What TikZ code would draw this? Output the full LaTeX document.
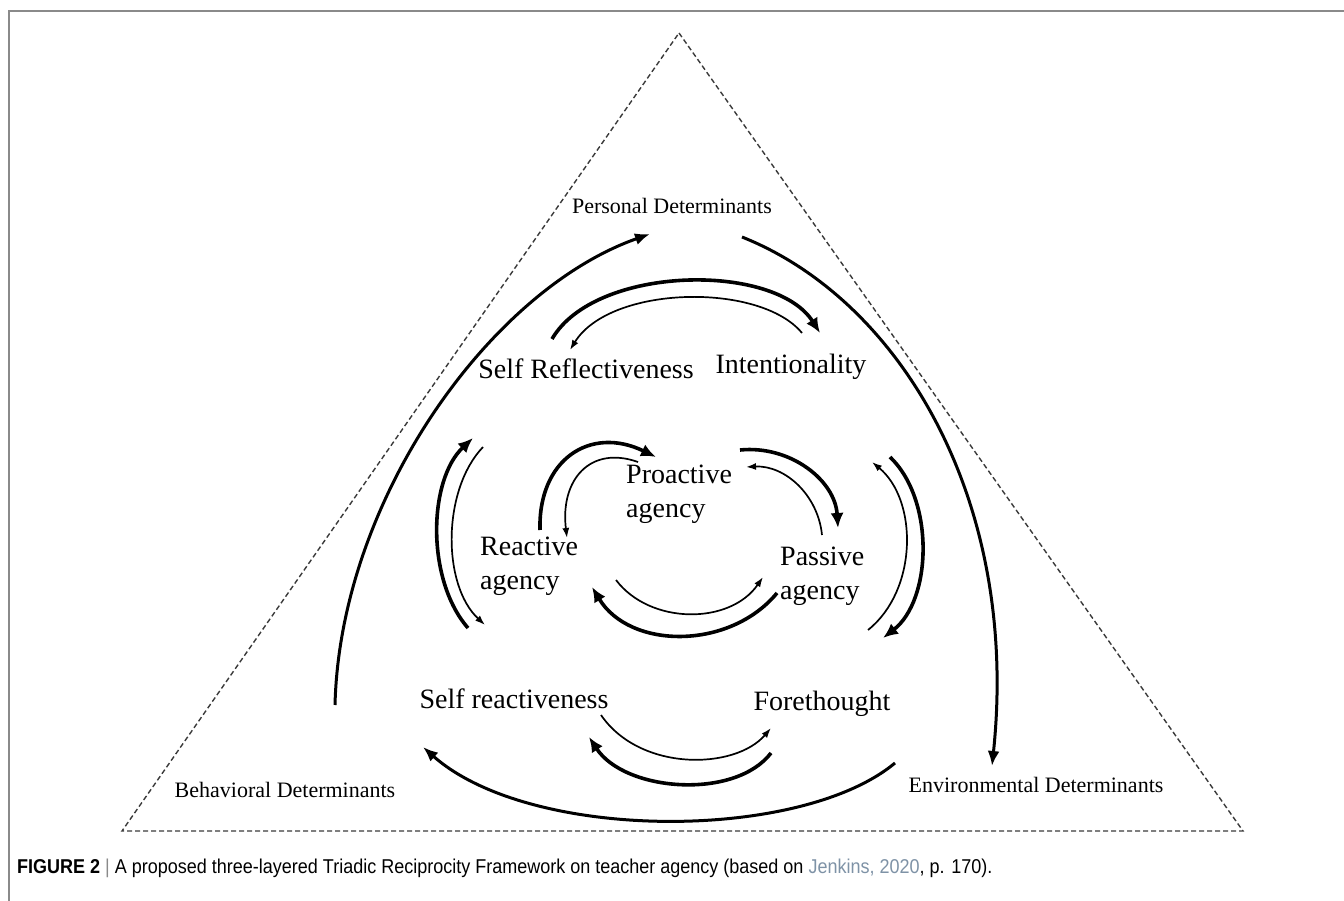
\documentclass[tikz,border=0pt]{standalone}
\usepackage{fontspec}
\usepackage{xcolor}
\setmainfont{Liberation Serif}
\newfontfamily\capfont[FakeStretch=0.9]{Liberation Sans}
\usetikzlibrary{arrows.meta}
\definecolor{framegrey}{HTML}{8A8A8A}
\definecolor{dashgrey}{HTML}{3A3A3A}
\definecolor{linkblue}{HTML}{7E92A6}

\begin{document}
\begin{tikzpicture}[x=1pt, y=-1pt,
    det/.style={font=\fontsize{22}{26}\selectfont, inner sep=0pt, anchor=base},
    lbl/.style={font=\fontsize{28}{34}\selectfont, inner sep=0pt, anchor=base},
    agent/.style={font=\fontsize{28}{34}\selectfont, inner sep=0pt, anchor=west, align=left},
    tri/.style={dashgrey, line width=1.4pt, dash pattern=on 5pt off 3pt},
    outer/.style={line width=3pt, -{Latex[length=15pt, width=12pt]}},
    heavy/.style={line width=3.6pt, -{Latex[length=15pt, width=13pt]}},
    light/.style={line width=1.7pt, -{Latex[length=10pt, width=7pt]}}]

    \useasboundingbox (0,0) rectangle (1344,901);
    \draw[framegrey, line width=1.5pt] (1344,11) -- (9,11) -- (9,901);

    \coordinate (apex) at (679,33);
    \coordinate (bl) at (122,831);
    \coordinate (br) at (1243,831);
    \draw[tri] (apex) -- (br) -- (bl) -- cycle;

    \node[det] (persdet) at (672,214) {Personal Determinants};
    \node[det] (behdet) at (285,797) {Behavioral Determinants};
    \node[det] (envdet) at (1036,792) {Environmental Determinants};

    \node[lbl] (selfrefl) at (586,378) {Self Reflectiveness};
    \node[lbl] (intent) at (791,373) {Intentionality};
    \node[lbl] (selfreact) at (514,708) {Self reactiveness};
    \node[lbl] (forethought) at (822,710) {Forethought};

    \node[agent] (proact) at (626,494) {Proactive\\agency};
    \node[agent] (react) at (480,566) {Reactive\\agency};
    \node[agent] (passive) at (780,576) {Passive\\agency};

    \coordinate (o1s) at (335,705);
    \coordinate (o1e) at (650,234);
    \coordinate (o2s) at (742,237);
    \coordinate (o2e) at (992,766);
    \coordinate (o3s) at (895,763);
    \coordinate (o3e) at (423,747);
    \draw[outer] (o1s) .. controls (340,500) and (490,290) .. (o1e);
    \draw[outer] (o2s) .. controls (900,300) and (1020,500) .. (o2e);
    \draw[outer] (o3s) .. controls (800,842) and (530,842) .. (o3e);

    \coordinate (t1s) at (552,339);
    \coordinate (t1e) at (820,333);
    \coordinate (t2s) at (802,333);
    \coordinate (t2e) at (570,350);
    \draw[heavy] (t1s) .. controls (595,265) and (775,262) .. (t1e);
    \draw[light] (t2s) .. controls (760,282) and (610,285) .. (t2e);

    \coordinate (l1s) at (468,628);
    \coordinate (l1e) at (473,438);
    \coordinate (l2s) at (483,447);
    \coordinate (l2e) at (485,625);
    \draw[heavy] (l1s) .. controls (426,580) and (428,480) .. (l1e);
    \draw[light] (l2s) .. controls (442,490) and (442,585) .. (l2e);

    \coordinate (r1s) at (890,457);
    \coordinate (r1e) at (883,638);
    \coordinate (r2s) at (868,630);
    \coordinate (r2e) at (872,462);
    \draw[heavy] (r1s) .. controls (935,500) and (932,600) .. (r1e);
    \draw[light] (r2s) .. controls (918,590) and (918,500) .. (r2e);

    \coordinate (b1s) at (601,715);
    \coordinate (b1e) at (771,728);
    \coordinate (b2s) at (771,753);
    \coordinate (b2e) at (589,737);
    \draw[light] (b1s) .. controls (640,772) and (735,770) .. (b1e);
    \draw[heavy] (b2s) .. controls (735,800) and (625,792) .. (b2e);

    \coordinate (i1s) at (540,530);
    \coordinate (i1e) at (656,457);
    \coordinate (i2s) at (638,462);
    \coordinate (i2e) at (567,538);
    \draw[heavy] (i1s) .. controls (538,460) and (590,425) .. (i1e);
    \draw[light] (i2s) .. controls (590,445) and (560,480) .. (i2e);

    \coordinate (i3s) at (740,450);
    \coordinate (i3e) at (838,528);
    \coordinate (i4s) at (822,535);
    \coordinate (i4e) at (746,467);
    \draw[heavy] (i3s) .. controls (790,445) and (835,480) .. (i3e);
    \draw[light] (i4s) .. controls (818,495) and (785,465) .. (i4e);

    \coordinate (i5s) at (616,580);
    \coordinate (i5e) at (763,577);
    \coordinate (i6s) at (777,593);
    \coordinate (i6e) at (592,587);
    \draw[light] (i5s) .. controls (650,625) and (730,625) .. (i5e);
    \draw[heavy] (i6s) .. controls (730,650) and (630,650) .. (i6e);

    \node[inner sep=0pt, anchor=base west, font=\capfont\fontsize{20}{24}\selectfont] (caption) at (17,873)
        {{\bfseries FIGURE 2} {\color{framegrey}|} A proposed three-layered Triadic Reciprocity Framework on teacher agency (based on {\color{linkblue}Jenkins, 2020}, p. 170).};
\end{tikzpicture}
\end{document}
